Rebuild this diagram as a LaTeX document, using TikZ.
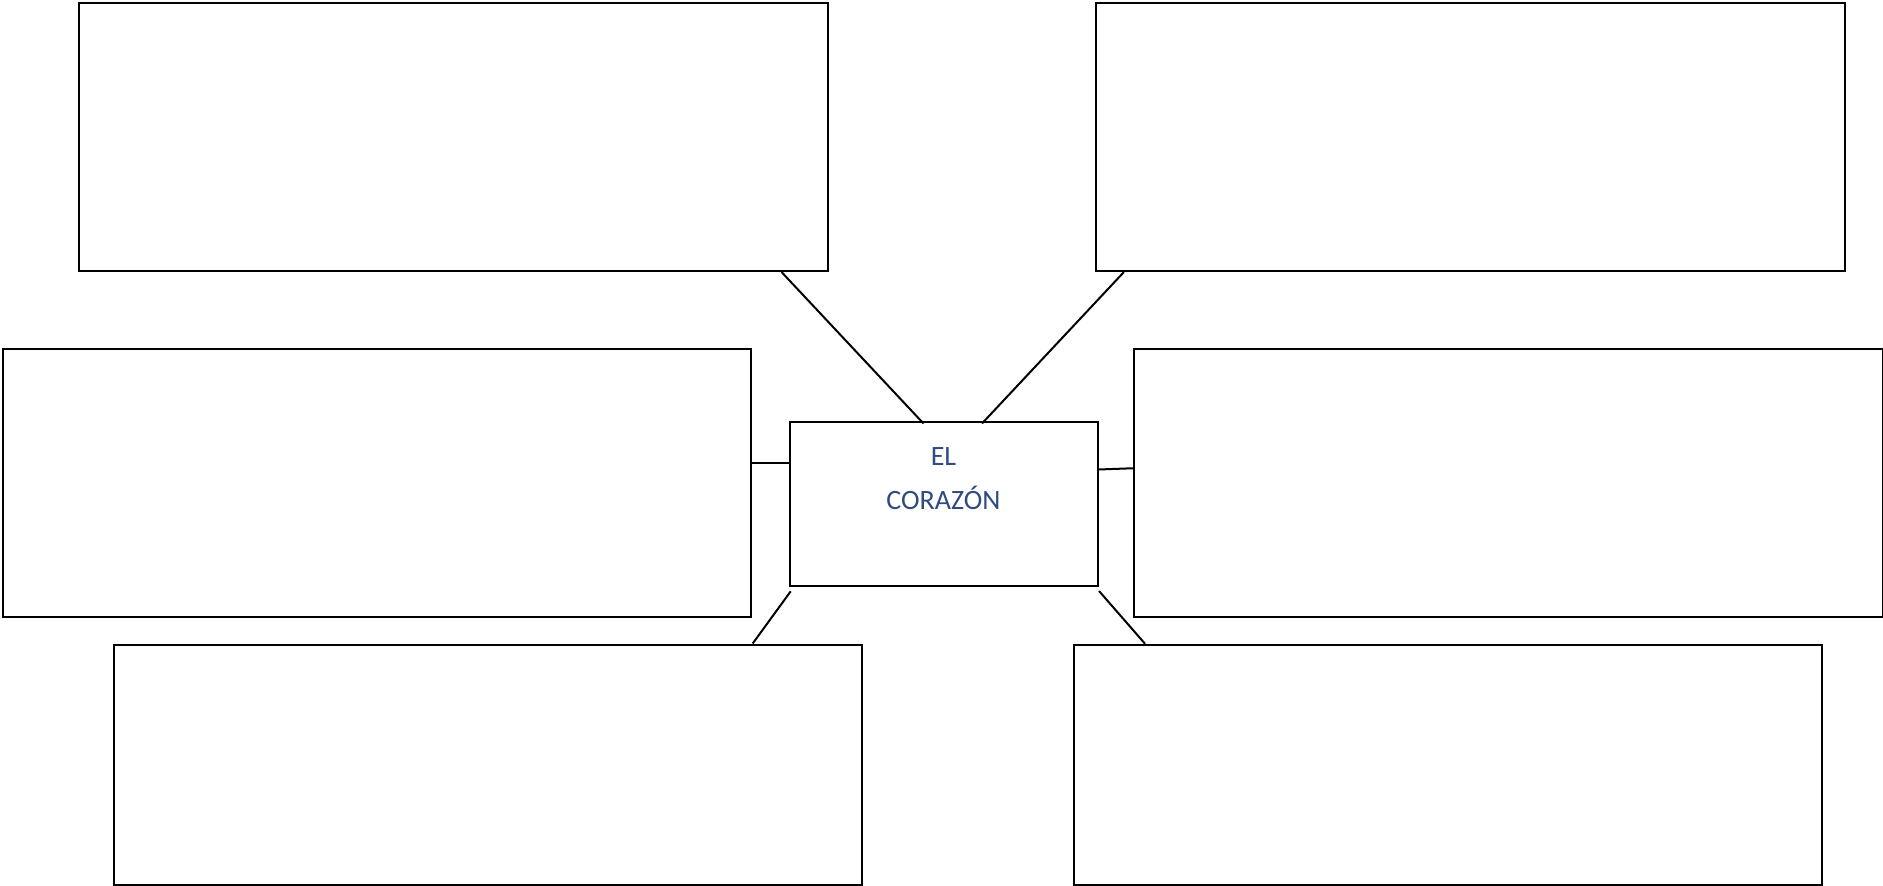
\documentclass[tikz,border=0pt]{standalone}
\usepackage{fontspec}
\setmainfont{Carlito}
\usepackage{xcolor}
\usetikzlibrary{positioning, calc}

\definecolor{heartblue}{HTML}{2F4B7F}

\begin{document}
\begin{tikzpicture}[x=1pt, y=-1pt, line width=2pt,
    box/.style={draw, inner sep=0pt, minimum width=748.5pt, minimum height=268.5pt},
    lowbox/.style={box, minimum height=240pt}]
    \useasboundingbox (0,0) rectangle (1883,886);

    \node[box] (tl) at (453.25, 136.75) {};
    \node[box] (tr) at (1470.5, 136.75) {};
    \node[box] (ml) at (376.75, 482.75) {};
    \node[box] (mr) at (1508.25, 482.75) {};
    \node[lowbox] (bl) at (487.75, 764.5) {};
    \node[lowbox] (br) at (1447.75, 764.75) {};

    \node[draw, inner sep=0pt, minimum width=308pt, minimum height=164pt] (heart) at (943.5, 503.5) {};
    \node[text=heartblue, font=\fontsize{28}{44}\selectfont, align=center, anchor=north, inner sep=0pt]
        (title) at ($(heart.north)+(0,26)$) {EL\\CORAZÓN};

    \draw ($(tl.south east)+(-47,0)$) -- ($(heart.north)+(-20,3)$);
    \draw ($(tr.south west)+(28.7,0)$) -- ($(heart.north)+(38.5,3)$);
    \draw ($(ml.east)+(0,-19.75)$) -- ($(heart.west)+(0,-40.5)$);
    \draw ($(heart.east)+(0,-34)$) -- ($(mr.west)+(0,-14.5)$);
    \draw ($(heart.south west)+(2.2,4.8)$) -- ($(bl.north east)+(-110.3,0)$);
    \draw ($(heart.south east)+(0.5,4.5)$) -- ($(br.north west)+(72.5,0)$);
\end{tikzpicture}
\end{document}
